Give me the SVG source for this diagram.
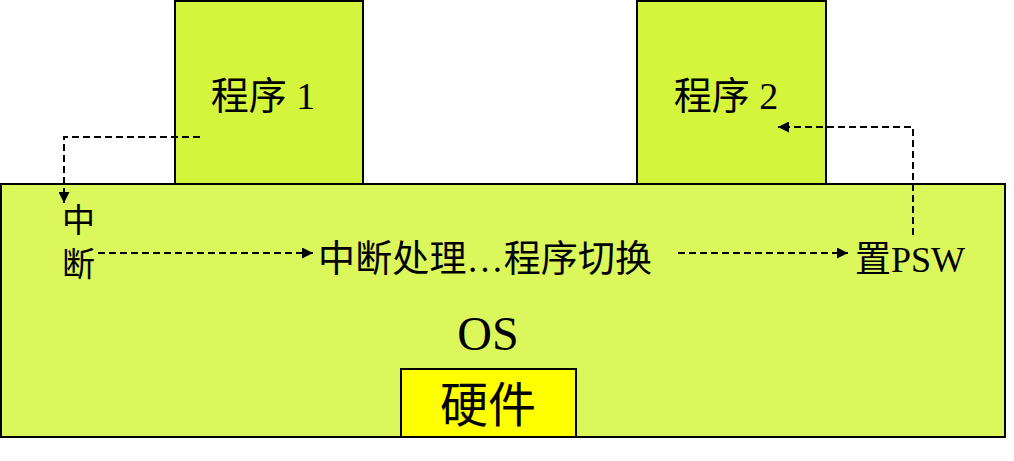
<svg xmlns="http://www.w3.org/2000/svg" width="1014" height="461" viewBox="0 0 1014 461">
<style>
.box{stroke:#000;stroke-width:2}
.t{font-family:"Liberation Serif","Noto Sans CJK SC",serif;fill:#000}
.c{fill:none;stroke:#000;stroke-width:2;stroke-dasharray:7,4}
</style>
<defs>
<marker id="ah" viewBox="0 0 10 10" refX="10" refY="5" markerWidth="11" markerHeight="11" markerUnits="userSpaceOnUse" orient="auto">
<path d="M0,0L10,5L0,10z" fill="#000"/>
</marker>
</defs>
<rect width="1014" height="461" fill="#fff"/>
<g id="program1">
<rect class="box" x="175" y="1" width="188" height="183" fill="#d5f43c"/>
<text class="t" x="263" y="109" font-size="38" text-anchor="middle">程序 1</text>
</g>
<g id="program2">
<rect class="box" x="637" y="1" width="189" height="183" fill="#d5f43c"/>
<text class="t" x="726" y="109" font-size="38" text-anchor="middle">程序 2</text>
</g>
<g id="os">
<rect class="box" x="1" y="184" width="1004" height="253" fill="#dcf75c"/>
<text class="t" x="488" y="350" font-size="48" text-anchor="middle">OS</text>
<text class="t" x="62" y="232" font-size="33">中</text>
<text class="t" x="62" y="276" font-size="33">断</text>
<text class="t" x="318" y="272" font-size="37" textLength="334">中断处理…程序切换</text>
<text class="t" x="855" y="272" font-size="36">置PSW</text>
</g>
<g id="hardware">
<rect class="box" x="401" y="369" width="175" height="68" fill="#ffff00"/>
<text class="t" x="488" y="422" font-size="48" text-anchor="middle">硬件</text>
</g>
<g id="connectors">
<path class="c" d="M200,137H64V203" marker-end="url(#ah)"/>
<path class="c" d="M98,253H313" marker-end="url(#ah)"/>
<path class="c" d="M678,253H848" marker-end="url(#ah)"/>
<path class="c" d="M913,235V127H778" marker-end="url(#ah)"/>
</g>
</svg>
